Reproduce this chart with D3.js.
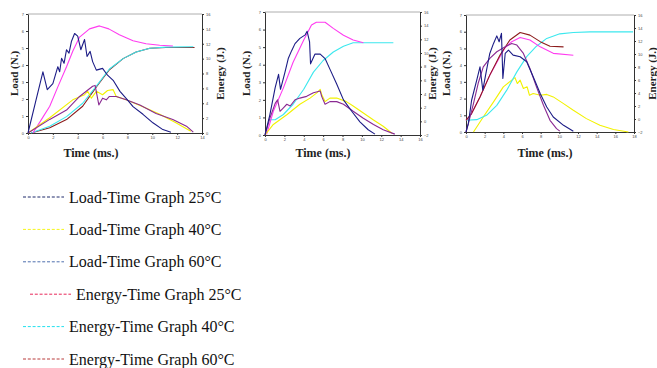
<!DOCTYPE html>
<html><head><meta charset="utf-8">
<script src="https://cdn.jsdelivr.net/npm/d3@7/dist/d3.min.js"></script>
<style>body{margin:0;background:#fff}svg{display:block}</style>
</head><body>
<svg id="c" width="657" height="368"></svg>
<script>
// ---- tick labels ----
const loadTicks = [0,1,2,3,4,5,6,7];
const energyTicks1 = [0,2,4,6,8,10,12,14,16];
const energyTicks23 = [-2,0,2,4,6,8,10,12,14,16];
const timeTicks1 = [0,2,4,6,8,10,12,14];
const timeTicks2 = [0,2,4,6,8,10,12,14,16];
const timeTicks3 = [0,2,4,6,8,10,12,14,16,18];

// ---- chart 1 series [time ms, value] ----
const c1Navy = [[0,0],[0.6,1.8],[1.2,3.6],[1.55,2.55],[2,2.9],[2.2,3.4],[2.4,3.9],[2.55,3.6],[2.7,4.4],[2.9,4.1],[3.1,4.9],[3.3,4.7],[3.5,5.4],[3.75,5.85],[4.0,5.7],[4.25,4.9],[4.55,5.5],[4.75,4.5],[5.0,4.8],[5.2,4.2],[5.5,3.7],[6.0,3.8],[6.4,3.4],[6.85,3.1],[7.4,2.45],[8.0,1.95],[8.45,1.55],[9.25,1.1],[10.05,0.6],[10.85,0.2],[11.5,0.05]];
const c1Magenta = [[0.4,0],[1.0,1.6],[1.75,3.6],[2.4,6.2],[3.1,8.9],[3.6,11.0],[4.15,12.9],[4.95,14.0],[5.75,14.4],[6.5,14.0],[7.35,13.2],[8.45,12.4],[9.5,12.0],[10.6,11.8],[11.66,11.7]];
const c1Cyan = [[0.25,0],[1.75,0.9],[3.1,2.2],[4.4,4.0],[5.5,6.3],[6.55,8.6],[7.65,10.0],[8.7,10.9],[9.8,11.4],[11.1,11.55],[13.3,11.6]];
const c1Brown = [[0.25,0],[1.75,0.7],[3.1,1.8],[4.4,3.6],[5.5,6.2],[6.55,8.5],[7.65,10.0],[8.7,10.9],[9.8,11.4],[11.1,11.5],[13.4,11.5]];
const c1Yellow = [[0,0],[1.75,0.9],[3.6,1.95],[4.55,2.25],[4.8,2.45],[5.1,2.05],[5.5,2.45],[6.0,2.25],[6.4,2.5],[6.85,2.55],[7.1,2.15],[7.9,1.95],[9.25,1.55],[10.6,1.1],[11.9,0.6],[13.1,0.1]];
const c1Purple = [[0,0],[1.75,0.8],[3.1,1.35],[4.15,2.15],[5.2,2.75],[5.4,2.8],[5.7,1.65],[6.0,2.05],[6.3,1.95],[6.55,2.15],[7.1,2.15],[7.9,1.95],[9.0,1.65],[10.3,1.15],[11.65,0.8],[12.75,0.4],[13.3,0.05]];

// ---- chart 2 series ----
const c2Navy = [[0,0],[0.5,1.15],[1.05,2.7],[1.4,3.45],[1.6,2.6],[2.05,3.55],[2.4,4.35],[2.75,4.8],[3.1,5.2],[3.6,5.5],[4.15,5.7],[4.35,5.9],[4.6,5.3],[4.7,4.05],[5.15,4.6],[5.7,4.6],[6.2,4.35],[6.7,3.75],[7.4,2.9],[8.1,2.0],[8.95,1.35],[9.8,0.75],[10.65,0.3],[11.35,0.05]];
const c2Magenta = [[0.17,-1.9],[0.86,1.47],[1.9,4.9],[2.9,8.65],[4.0,11.9],[4.8,14.1],[5.3,14.5],[6.2,14.5],[7.05,13.6],[8.1,12.6],[9.1,11.9],[10.15,11.5]];
const c2Cyan = [[0.35,0.23],[1.05,0.23],[1.9,1.0],[2.9,2.5],[4.0,4.7],[5.0,7.2],[6.0,8.9],[7.05,10.15],[8.1,11.0],[9.1,11.5],[10.15,11.5],[13.25,11.5]];
const c2Yellow = [[0,0],[0.86,0.6],[2.25,1.15],[3.6,1.75],[4.65,2.1],[5.35,2.4],[5.7,2.6],[5.85,2.3],[6.2,1.9],[6.7,2.1],[7.4,2.1],[8.4,1.9],[9.1,1.65],[10.15,1.25],[11.2,0.85],[12.2,0.5],[13.1,0.1]];
const c2Purple = [[0,0],[0.5,0.95],[1.05,1.8],[1.3,2.0],[1.55,1.35],[1.9,1.55],[2.25,1.75],[2.6,1.65],[3.1,2.0],[3.6,2.1],[4.3,2.2],[5.0,2.4],[5.7,2.5],[5.85,2.2],[6.2,1.75],[6.7,1.9],[7.4,1.9],[8.1,1.75],[9.1,1.35],[10.15,0.95],[11.2,0.6],[12.2,0.3],[13.4,0.05]];

// ---- chart 3 series ----
const c3Navy = [[0,0],[0.25,0.5],[0.6,1.9],[1.15,3.1],[1.5,3.9],[1.8,2.5],[2.2,3.7],[2.55,4.7],[2.95,5.3],[3.3,5.75],[3.55,5.4],[3.8,5.9],[3.95,3.2],[4.2,4.7],[4.55,4.9],[5.05,4.6],[5.8,4.5],[6.5,4.2],[7.2,3.3],[7.95,2.3],[8.65,1.5],[9.35,0.9],[10.45,0.4],[11.5,0.05]];
const c3Purple = [[0,0],[0.25,0.5],[0.8,1.7],[1.3,2.9],[1.85,3.9],[2.55,4.4],[3.3,4.8],[4.2,5.1],[4.9,5.3],[5.45,5.2],[6.15,4.7],[6.85,3.8],[7.55,2.7],[8.3,1.6],[9.0,0.7],[9.7,0.2],[10.05,0.05]];
const c3Magenta = [[0,-0.2],[0.6,0.83],[1.5,3.4],[2.55,6.75],[3.65,9.6],[4.2,11.0],[4.9,11.9],[5.8,12.55],[6.85,12.15],[7.95,11.1],[9.35,10.1],[11.5,9.8]];
const c3Brown = [[0,-0.2],[0.6,0.83],[1.5,3.4],[2.55,6.75],[3.65,9.85],[4.7,12.15],[5.8,13.3],[6.85,12.9],[7.95,11.9],[9.0,11.2],[10.45,11.1]];
const c3Cyan = [[0,-0.2],[1.15,-0.1],[2.2,0.57],[3.3,2.1],[4.35,4.4],[5.45,7.25],[6.5,9.6],[7.55,11.2],[8.65,12.4],[10.05,13.1],[11.5,13.3],[13.3,13.4],[17.9,13.4]];
const c3Yellow = [[0.8,0],[1.85,0.9],[2.95,1.8],[4.0,2.7],[4.9,3.1],[5.25,3.25],[5.5,2.9],[5.8,3.1],[6.15,2.6],[6.55,2.7],[6.8,2.2],[7.2,2.3],[7.95,2.2],[8.65,2.25],[9.35,2.1],[10.45,1.7],[11.5,1.3],[12.9,0.8],[14.35,0.4],[15.8,0.15],[17.4,0]];

// ---- legend ----
const legendLabels = ["Load-Time Graph 25°C","Load-Time Graph 40°C","Load-Time Graph 60°C","Energy-Time Graph 25°C","Energy-Time Graph 40°C","Energy-Time Graph 60°C"];
const legendColors = ["#1f2a6b","#f5f51a","#4f6fae","#e8285a","#22e0ee","#b83a3a"];

const col = {navy:"#1c1c86", magenta:"#ff3cf0", cyan:"#3ce8ee", brown:"#8c1c1c", yellow:"#f2f200", purple:"#8a2a92"};

const charts = [
  {x0:28,x1:202,y0:14,y1:133,xmax:14,rmin:0,xt:timeTicks1,rt:energyTicks1,loadX:15,enX:221,timeX:91,
   series:[[c1Brown,"R","brown"],[c1Cyan,"R","cyan"],[c1Magenta,"R","magenta"],[c1Yellow,"L","yellow"],[c1Purple,"L","purple"],[c1Navy,"L","navy"]]},
  {x0:265,x1:420,y0:12,y1:135,xmax:16,rmin:-2,xt:timeTicks2,rt:energyTicks23,loadX:247,enX:433,timeX:323,
   series:[[c2Cyan,"R","cyan"],[c2Magenta,"R","magenta"],[c2Yellow,"L","yellow"],[c2Purple,"L","purple"],[c2Navy,"L","navy"]]},
  {x0:466,x1:634,y0:15,y1:132,xmax:18,rmin:-2,xt:timeTicks3,rt:energyTicks23,loadX:447,enX:653,timeX:545,
   series:[[c3Yellow,"L","yellow"],[c3Cyan,"R","cyan"],[c3Magenta,"R","magenta"],[c3Brown,"R","brown"],[c3Purple,"L","purple"],[c3Navy,"L","navy"]]}
];

const svg = d3.select("#c");
const serif = "'Liberation Serif','Times New Roman',serif";
const fmt = d3.format("d");

charts.forEach(c => {
  const x = d3.scaleLinear().domain([0,c.xmax]).range([c.x0,c.x1]);
  const yL = d3.scaleLinear().domain([0,7]).range([c.y1,c.y0]);
  const yR = d3.scaleLinear().domain([c.rmin,16]).range([c.y1,c.y0]);
  const g = svg.append("g");
  g.append("line").attr("x1",c.x0).attr("x2",c.x1).attr("y1",c.y0).attr("y2",c.y0).attr("stroke","#999").attr("stroke-width",0.8);
  const styleAxis = (sel) => {
    sel.selectAll(".domain").attr("stroke","#333").attr("stroke-width",1);
    sel.selectAll(".tick line").attr("stroke","#333");
    sel.selectAll(".tick text").attr("font-size","4px").attr("fill","#444").attr("font-family","Arial, sans-serif");
  };
  g.append("g").attr("transform",`translate(${c.x0},0)`)
    .call(d3.axisLeft(yL).tickValues(loadTicks).tickFormat(fmt).tickSize(2).tickSizeOuter(0).tickPadding(2)).call(styleAxis);
  g.append("g").attr("transform",`translate(${c.x1},0)`)
    .call(d3.axisRight(yR).tickValues(c.rt).tickFormat(fmt).tickSize(2).tickSizeOuter(0).tickPadding(2)).call(styleAxis);
  g.append("g").attr("transform",`translate(0,${c.y1})`)
    .call(d3.axisBottom(x).tickValues(c.xt).tickFormat(fmt).tickSize(2).tickSizeOuter(0).tickPadding(1)).call(styleAxis);

  c.series.forEach(([data,ax,cn]) => {
    const y = ax==="L" ? yL : yR;
    const line = d3.line().x(d=>x(d[0])).y(d=>y(d[1]));
    g.append("path").datum(data).attr("d",line).attr("fill","none")
      .attr("stroke",col[cn]).attr("stroke-width",1.1).attr("stroke-linejoin","round");
  });

  const cy = (c.y0+c.y1)/2;
  g.append("text").attr("transform",`translate(${c.loadX},${cy}) rotate(-90)`)
    .attr("text-anchor","middle").attr("dominant-baseline","middle")
    .attr("font-family",serif).attr("font-weight","bold").attr("font-size","11px").attr("fill","#222").text("Load (N.)");
  g.append("text").attr("transform",`translate(${c.enX},${cy}) rotate(-90)`)
    .attr("text-anchor","middle").attr("dominant-baseline","middle")
    .attr("font-family",serif).attr("font-weight","bold").attr("font-size","11px").attr("fill","#222").text("Energy (J.)");
  g.append("text").attr("x",c.timeX).attr("y",157)
    .attr("text-anchor","middle")
    .attr("font-family",serif).attr("font-weight","bold").attr("font-size","12px").attr("fill","#222").text("Time (ms.)");
});

// legend
const lg = svg.append("g");
const rowY = d3.scaleLinear().domain([0,5]).range([197,359]);
legendLabels.forEach((t,i) => {
  const off = i===3 ? 7 : 0;
  const yy = rowY(i);
  lg.append("line").attr("x1",23+off).attr("x2",64+off).attr("y1",yy).attr("y2",yy)
    .attr("stroke",legendColors[i]).attr("stroke-width",1).attr("stroke-dasharray","3,1.8");
  lg.append("text").attr("x",69+off).attr("y",yy).attr("dominant-baseline","central")
    .attr("font-family",serif).attr("font-size","16px").attr("fill","#111").text(t);
});
</script>
</body></html>
